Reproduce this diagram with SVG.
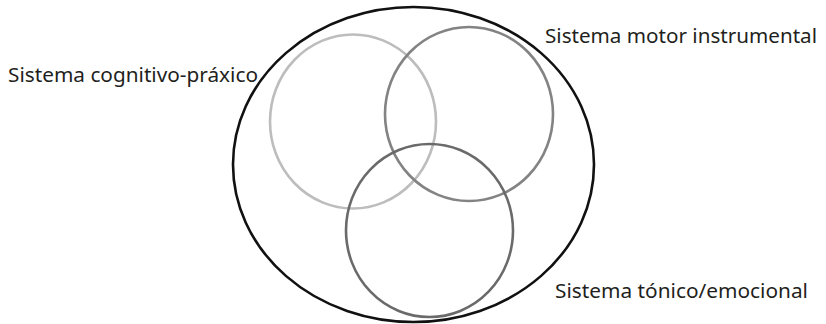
<svg xmlns="http://www.w3.org/2000/svg" width="826" height="324" viewBox="0 0 826 324">
<style>
.lbl{font-family:"Noto Sans","Open Sans","Liberation Sans",sans-serif;font-size:19.5px;fill:#231f20}
.c{fill:none;stroke-width:2.6}
</style>
<rect width="826" height="324" fill="#fff"/>
<g id="outer"><ellipse class="c" cx="413.5" cy="164.5" rx="180.5" ry="157.5" stroke="#111"/></g>
<g id="cognitivo">
<ellipse class="c" cx="353" cy="121.5" rx="83" ry="87" stroke="#bdbdbd"/>
<text class="lbl" x="8" y="81.5" textLength="250" lengthAdjust="spacingAndGlyphs">Sistema cognitivo-práxico</text>
</g>
<g id="motor">
<ellipse class="c" cx="469" cy="114" rx="84" ry="87" stroke="#838383"/>
<text class="lbl" x="545" y="42.5" textLength="272" lengthAdjust="spacingAndGlyphs">Sistema motor instrumental</text>
</g>
<g id="tonico">
<ellipse class="c" cx="429.5" cy="230.5" rx="83.5" ry="86.5" stroke="#6a6a6a"/>
<text class="lbl" x="555" y="297.5" textLength="253" lengthAdjust="spacingAndGlyphs">Sistema tónico/emocional</text>
</g>
<g id="connectors"/>
</svg>
